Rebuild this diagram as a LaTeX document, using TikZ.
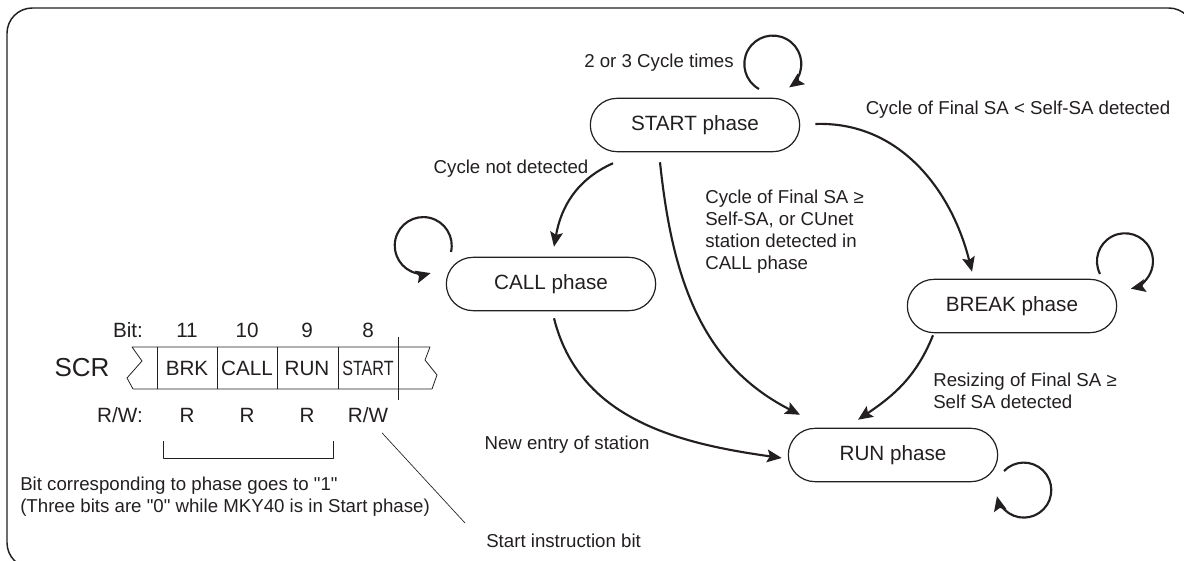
\documentclass[tikz,border=0pt]{standalone}
\usepackage{fontspec}
\setmainfont{Liberation Sans}[Ligatures=TeXOff]
\usetikzlibrary{arrows.meta,calc}
\definecolor{ink}{HTML}{231F20}

\begin{document}
\begin{tikzpicture}[x=0.75pt, y=0.75pt, color=ink, line join=round,
	phase/.style={draw, line width=0.9pt, rounded corners=20pt, minimum width=157pt, minimum height=40pt, font=\fontsize{15.5}{18}\selectfont},
	trans/.style={line width=1.6pt, -{Stealth[length=11pt, width=9.5pt, inset=2pt]}},
	lbl/.style={font=\fontsize{14}{16.5}\selectfont, inner sep=0pt},
	reg/.style={font=\fontsize{15.5}{18}\selectfont, inner sep=0pt}]
	%frame
	\useasboundingbox (0,0) rectangle (1184,560);
	\clip (0,0) rectangle (1184,560);
	\draw[line width=1.1pt, rounded corners=19pt] (7,552) rectangle (1194,-8);

	%phases
	\node[phase] (start) at (695,435) {START phase};
	\node[phase] (call) at (551,276) {CALL phase};
	\node[phase] (brk) at (1012,254) {BREAK phase};
	\node[phase] (run) at (893,105) {RUN phase};

	%transitions
	\draw[trans] ($(start.south)+(-82,-11)$) to[out=204, in=80] ($(call.north)+(3,10)$);
	\draw[trans] ($(start.south)+(-35,-10)$) to[out=-84, in=153] ($(run.north)+(-93,13)$);
	\draw[trans] ($(call.south)+(3,-7)$) to[out=-76, in=172] ($(run.west)+(-6,-3)$);
	\draw[trans] ($(start.east)+(15,1)$) to[out=2, in=104] ($(brk.north)+(-40,7)$);
	\draw[trans] ($(brk.south)+(-79,-2)$) to[out=248, in=34] ($(run.north)+(-35,8)$);

	%loops
	\coordinate (sloop) at (759,471);
	\coordinate (cloop) at (451,308);
	\coordinate (bloop) at (1100,286);
	\coordinate (rloop) at (1004,89);
	\draw[trans] (sloop) arc[start angle=241, end angle=-55, radius=28.5];
	\draw[trans] (cloop) arc[start angle=-13, end angle=285, radius=28.5];
	\draw[trans] (bloop) arc[start angle=207, end angle=-78, radius=28];
	\draw[trans] (rloop) arc[start angle=136, end angle=-167, radius=27.5];

	%labels
	\node[lbl] (l1) at (659,497) {2 or 3 Cycle times};
	\node[lbl] (l2) at (1018,450) {Cycle of Final SA < Self-SA detected};
	\node[lbl] (l3) at (511,391) {Cycle not detected};
	\node[lbl, anchor=west, align=left] (l4) at (705,328) {Cycle of Final SA ≥\\Self-SA, or CUnet\\station detected in\\CALL phase};
	\node[lbl, anchor=west, align=left] (l5) at (933,169) {Resizing of Final SA ≥\\Self SA detected};
	\node[lbl] (l6) at (567,115) {New entry of station};

	%register
	\node[reg, font=\fontsize{19.5}{22}\selectfont] (scr) at (82,192) {SCR};
	\node[reg] (bitlbl) at (128,230) {Bit:};
	\node[reg] (rwlbl) at (120,145) {R/W:};
	\draw[line width=0.6pt] (132,213) -- (142,199) -- (127,182) -- (133,171) -- (432,171)
		-- (437,185) -- (425,200) -- (430,213) -- cycle;
	\foreach \x in {157,217,277,338}{
		\draw[line width=0.6pt] (\x,213)--(\x,171);
	}
	\draw[line width=0.6pt] (398,223)--(398,160);
	\foreach \x/\n/\f in {187/11/BRK, 247/10/CALL, 307/9/RUN}{
		\node[reg] (bit\n) at (\x,230){\n};
		\node[reg] (cell\n) at (\x,192){\f};
		\node[reg] (rw\n) at (\x,145){R};
	}
	\node[reg] (bit8) at (368,230){8};
	\node[reg] (cell8) at (368,192){\scalebox{0.78}[1]{START}};
	\node[reg] (rw8) at (368,145){R/W};
	\draw[line width=0.6pt] (163,119) |- (333,102) -- (333,119);
	\node[lbl, anchor=west, align=left] (note) at (20,63) {Bit corresponding to phase goes to "1"\\(Three bits are "0" while MKY40 is in Start phase)};
	\node[lbl, anchor=west] (sib) at (486,19) {Start instruction bit};
	\draw[line width=0.5pt] ($(rw8.south)+(14,-10)$) -- ($(sib.west)+(-21,18)$);
\end{tikzpicture}
\end{document}
